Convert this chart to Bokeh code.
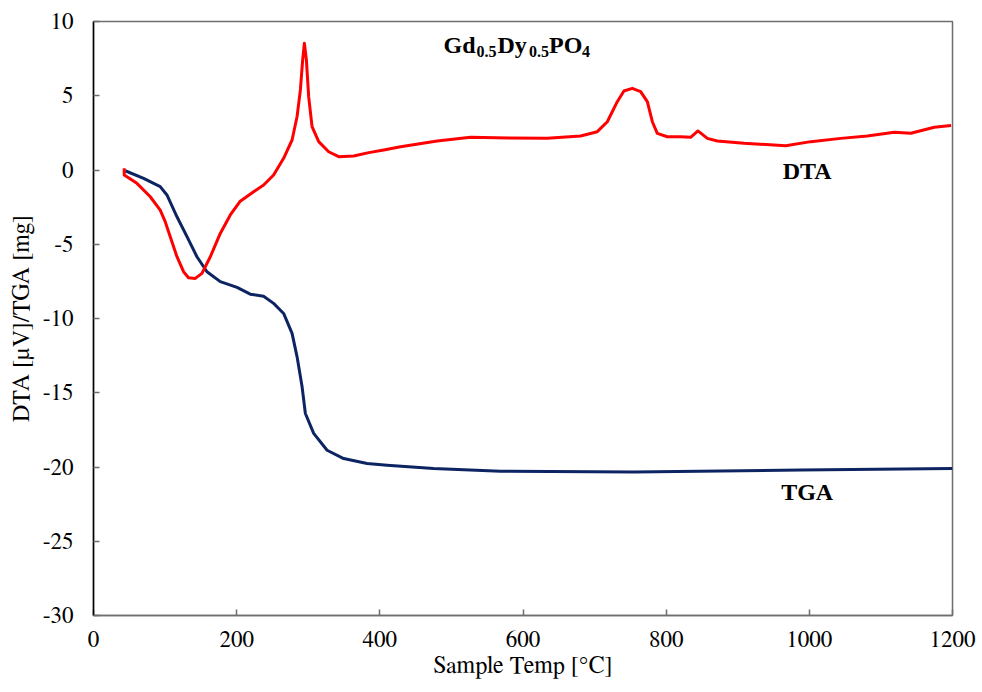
from bokeh.plotting import figure
from bokeh.models import Range1d, SingleIntervalTicker, Label, CustomJSTickFormatter
from bokeh.embed import file_html
from bokeh.resources import INLINE

# DTA curve (red)
dta_t = [42.9, 42.9, 60.7, 79.3, 93.2, 100.2, 107.2, 116.6, 125.8, 132.8, 142.2, 151.5, 163.2,
         177.1, 191.1, 205, 223.7, 237.7, 251.6, 265.6, 277.4, 284.4, 289, 292.2, 294.6, 297.4,
         300.6, 305.3, 314.6, 328.5, 342.5, 363.5, 384.5, 405.5, 429, 480, 526.6, 580, 634,
         680.4, 703.8, 717.8, 731.7, 741, 752.7, 764.3, 773.7, 780.7, 787.6, 801.6, 820.2,
         834.2, 844.4, 857.5, 871.5, 908.7, 967, 1002, 1043.9, 1081, 1118.5, 1141.8, 1174.5,
         1198]
dta_v = [0.11, -0.34, -0.9, -1.8, -2.7, -3.48, -4.5, -5.84, -6.85, -7.26, -7.3, -6.96, -5.84,
         -4.27, -3.03, -2.1, -1.46, -1.01, -0.34, 0.79, 2.02, 3.6, 5.39, 7.41, 8.54, 7.41, 4.94,
         2.92, 1.91, 1.23, 0.9, 0.94, 1.17, 1.35, 1.57, 1.95, 2.2, 2.15, 2.13, 2.29, 2.58, 3.25,
         4.6, 5.32, 5.5, 5.28, 4.6, 3.25, 2.47, 2.24, 2.24, 2.2, 2.63, 2.13, 1.95, 1.8, 1.64,
         1.91, 2.13, 2.29, 2.54, 2.47, 2.88, 2.99]

# TGA curve (navy)
tga_t = [44.3, 70, 93.2, 102.6, 116.6, 130.6, 144.5, 158.5, 177.1, 200.5, 219, 237.6, 251.6,
         265.6, 277.4, 284.4, 291.4, 296, 307.6, 326.3, 349.5, 382.2, 410.2, 475, 568.6, 755,
         988, 1200]
tga_v = [-0.05, -0.56, -1.12, -1.68, -3.15, -4.49, -5.84, -6.85, -7.52, -7.9, -8.36, -8.5,
         -8.98, -9.66, -11.0, -12.58, -14.6, -16.4, -17.74, -18.87, -19.43, -19.76, -19.88,
         -20.1, -20.28, -20.33, -20.2, -20.1]

x_range = (0, 1200)
y_range = (-30, 10)
x_tick_step = 200
y_tick_step = 5

SERIF = "Liberation Serif"
AXIS_SERIF = "FreeSerif"

p = figure(width=982, height=692, output_backend="svg", toolbar_location=None,
           x_range=Range1d(*x_range), y_range=Range1d(*y_range))
p.min_border_left = 93
p.min_border_right = 30
p.min_border_top = 21
p.min_border_bottom = 77
p.background_fill_color = "white"
p.border_fill_color = "white"
p.grid.visible = False
p.outline_line_color = "#6e6e6e"
p.outline_line_width = 1.5

p.xaxis.ticker = SingleIntervalTicker(interval=x_tick_step)
p.yaxis.ticker = SingleIntervalTicker(interval=y_tick_step)
p.xaxis.formatter = CustomJSTickFormatter(code="return tick.toFixed(0);")
p.yaxis.formatter = CustomJSTickFormatter(code="return tick.toFixed(0);")

for axes in (p.xaxis, p.yaxis):
    axes.major_tick_in = 6
    axes.major_tick_out = 0
    axes.minor_tick_in = 0
    axes.minor_tick_out = 0
    axes.major_label_text_font = AXIS_SERIF
    axes.major_label_text_font_size = "23px"
    axes.major_label_text_color = "black"
    axes.axis_label_text_font = AXIS_SERIF
    axes.axis_label_text_font_size = "24px"
    axes.axis_label_text_font_style = "normal"
    axes.axis_label_text_color = "black"
    axes.axis_line_width = 1.5
    axes.major_tick_line_width = 1.5

p.xaxis.axis_line_color = "#6e6e6e"
p.xaxis.major_tick_line_color = "#6e6e6e"
p.yaxis.axis_line_color = "black"
p.yaxis.major_tick_line_color = "#6e6e6e"
p.xaxis.axis_label = "Sample Temp [°C]"
p.yaxis.axis_label = "DTA [µV]/TGA [mg]"
p.xaxis.major_label_standoff = 16
p.yaxis.major_label_standoff = 20
p.xaxis.axis_label_standoff = 4
p.yaxis.axis_label_standoff = 6

p.line(tga_t, tga_v, line_color="#0d2463", line_width=3, line_join="round")
p.line(dta_t, dta_v, line_color="#ff0000", line_width=3, line_join="round")

def lab(x, y, text, size, x_off=0, y_off=0, align="left", baseline="middle"):
    p.add_layout(Label(x=x, y=y, text=text, x_offset=x_off, y_offset=y_off,
                       text_font=SERIF, text_font_size=size, text_font_style="bold",
                       text_align=align, text_baseline=baseline, text_color="black"))

lab(997, -0.1, "DTA", "24px", align="center")
lab(997, -21.7, "TGA", "24px", align="center")

# Compound label with subscripts
tx, ty = 489, 8.42
pieces = [("Gd", "24px", 0, 33), ("0.5", "16px", -7, 21), ("Dy", "24px", 0, 31.5),
          ("0.5", "16px", -7, 20), ("PO", "24px", 0, 33), ("4", "16px", -7, 8)]
off = 0
for txt, size, yo, w in pieces:
    lab(tx, ty, txt, size, x_off=off, y_off=yo)
    off += w

open("out.html", "w").write(file_html(p, INLINE))
